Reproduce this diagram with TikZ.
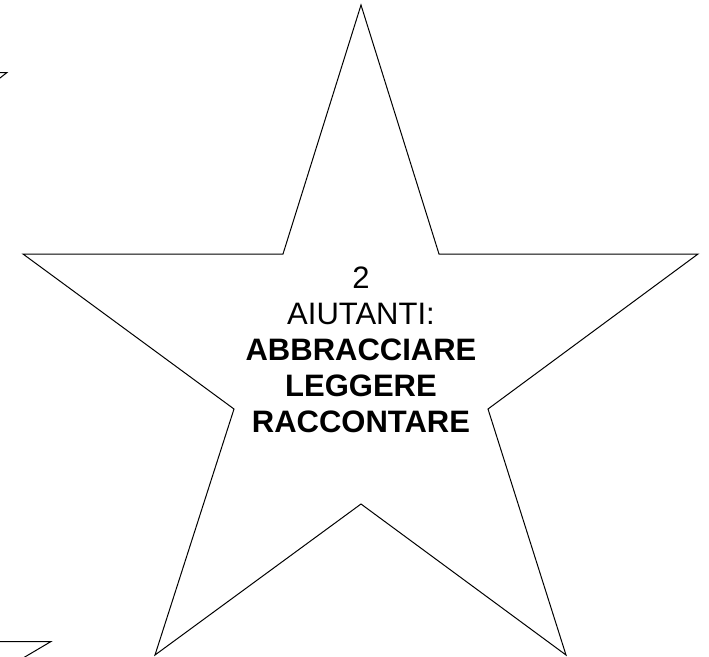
\documentclass[tikz,border=0pt]{standalone}
\usepackage{fontspec}
\setmainfont{Liberation Sans}
\usetikzlibrary{positioning}

\begin{document}
\begin{tikzpicture}[x=1pt, y=-1pt,
    row/.style  = {font=\fontsize{31}{36}\selectfont, anchor=base, inner sep=0pt},
    rowb/.style = {font=\fontsize{31}{36}\selectfont\bfseries, anchor=base, inner sep=0pt},
    edge/.style = {draw=black, line width=1pt},
  ]
    \useasboundingbox (0,0) rectangle (709,656);
    \def\cx{361}
    \def\ty{288}
    \def\rs{36}  % row spacing

    % ── Star outline ──
    \coordinate (top) at (361,5);
    \coordinate (iur) at (439,254);
    \coordinate (pr)  at (698,254);
    \coordinate (ilr) at (488,409);
    \coordinate (pbr) at (566,655);
    \coordinate (ib)  at (361,504);
    \coordinate (pbl) at (155,655);
    \coordinate (ill) at (234,409);
    \coordinate (pl)  at (23,254);
    \coordinate (iul) at (283,254);
    \draw[edge] (top) -- (iur) -- (pr) -- (ilr) -- (pbr) -- (ib) -- (pbl) -- (ill) -- (pl) -- (iul) -- cycle;

    % ── Text ──
    \node[row]  (num) at (\cx, \ty)         {2};
    \node[row]  (hdr) at (\cx, \ty+1*\rs)   {AIUTANTI:};
    \node[rowb] (abb) at (\cx, \ty+2*\rs)   {ABBRACCIARE};
    \node[rowb] (leg) at (\cx, \ty+3*\rs)   {LEGGERE};
    \node[rowb] (rac) at (\cx, \ty+4*\rs)   {RACCONTARE};

    % ── Neighbour stars (cut off) ──
    \begin{scope}
      \clip (0,0) rectangle (709,656);
      \coordinate (npa) at (7,72.5);
      \coordinate (npb) at (50.7,641.7);
      \draw[edge] (-10,72.5) -- (npa) -- (-7,83.5);
      \draw[edge] (-10,641.7) -- (npb) -- (18,661);
    \end{scope}
\end{tikzpicture}
\end{document}
